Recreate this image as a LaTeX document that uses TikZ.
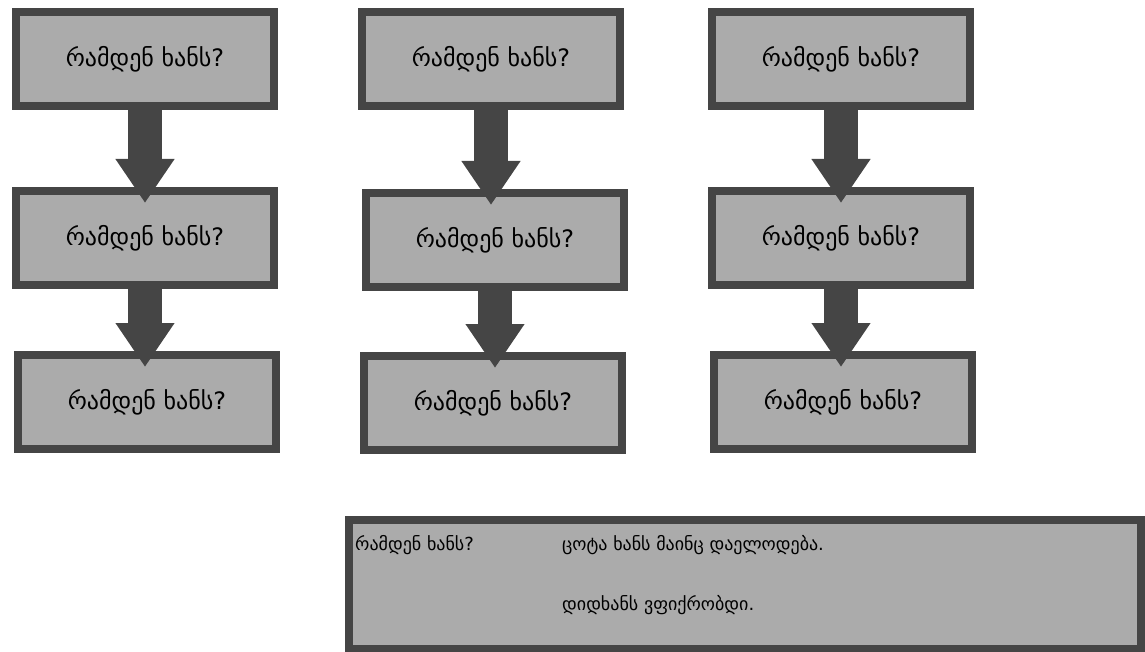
\documentclass[tikz,border=0pt]{standalone}
\usepackage{fontspec}
\newfontfamily\geofont{DejaVu Sans}
\usepackage{tikz}
\usetikzlibrary{positioning}
\usetikzlibrary{arrows.meta}
\definecolor{boxline}{HTML}{454545}
\definecolor{boxfill}{HTML}{ABABAB}

\begin{document}
\begin{tikzpicture}
 [ x=1pt
 , y=-1pt
 , question/.style={draw=boxline, fill=boxfill, line width=8pt, minimum width=258pt, minimum height=94pt, inner sep=0pt, font=\geofont\fontsize{24}{28}\selectfont}
 , answer/.style={anchor=west, inner sep=0pt, font=\geofont\fontsize{18}{22}\selectfont}
 , blockarrow/.style={draw=boxline, line width=34pt, -{Triangle[width=56pt, length=44pt]}}
 ]
  \useasboundingbox (0,0) rectangle (1145,652);
  % first column
  \node [question] (a1) at (145,59) {რამდენ ხანს?};
  \node [question] (a2) at (145,238) {რამდენ ხანს?};
  \node [question] (a3) at (147,402) {რამდენ ხანს?};
  % second column
  \node [question] (b1) at (491,59) {რამდენ ხანს?};
  \node [question] (b2) at (495,240) {რამდენ ხანს?};
  \node [question] (b3) at (493,403) {რამდენ ხანს?};
  % third column
  \node [question] (c1) at (841,59) {რამდენ ხანს?};
  \node [question] (c2) at (841,238) {რამდენ ხანს?};
  \node [question] (c3) at (843,402) {რამდენ ხანს?};
  \draw [blockarrow] (a1.south) -- ([yshift=-16pt]a1.south |- a2.north);
  \draw [blockarrow] (a2.south) -- ([yshift=-16pt]a2.south |- a3.north);
  \draw [blockarrow] (b1.south) -- ([yshift=-16pt]b1.south |- b2.north);
  \draw [blockarrow] (b2.south) -- ([yshift=-16pt]b2.south |- b3.north);
  \draw [blockarrow] (c1.south) -- ([yshift=-16pt]c1.south |- c2.north);
  \draw [blockarrow] (c2.south) -- ([yshift=-16pt]c2.south |- c3.north);
  % summary box
  \node [question, minimum width=792pt, minimum height=129pt] (sum) at (745,584) {};
  \node [answer] (q) at (355,545) {რამდენ ხანს?};
  \node [answer] (r1) at (562,545) {ცოტა ხანს მაინც დაელოდება.};
  \node [answer] (r2) at (562,605) {დიდხანს ვფიქრობდი.};
\end{tikzpicture}
\end{document}
